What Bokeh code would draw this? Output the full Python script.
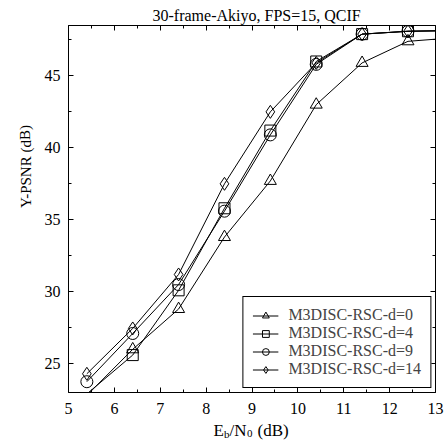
import numpy as np
from bokeh.plotting import figure
from bokeh.models import Range1d, SingleIntervalTicker, LinearAxis
from bokeh.layouts import column, row
from bokeh.core.properties import value
from bokeh.embed import file_html
from bokeh.resources import INLINE

# ---- data ----
ebn0 = [5.4, 6.4, 7.4, 8.4, 9.4, 10.4, 11.4, 12.4, 13.4]
d0 = [22.8, 26.0, 28.8, 33.8, 37.7, 43.0, 45.9, 47.4, 47.65]
d4 = [22.9, 25.6, 30.1, 35.8, 41.2, 46.0, 47.9, 48.1, 48.15]
d9 = [23.75, 27.1, 30.5, 35.6, 40.9, 45.8, 47.9, 48.1, 48.15]
d14 = [24.3, 27.45, 31.2, 37.5, 42.5, 45.9, 47.9, 48.1, 48.15]
labels = ["M3DISC-RSC-d=0", "M3DISC-RSC-d=4", "M3DISC-RSC-d=9", "M3DISC-RSC-d=14"]
title_text = "30-frame-Akiyo, FPS=15, QCIF"
ylabel_text = "Y-PSNR (dB)"
xlabel_parts = ["E", "b", "/N", "0", "(dB)"]
x_min, x_max = 5, 13
y_min, y_max = 23, 48.5

FONT = "'Liberation Serif', 'Times New Roman', serif"
W, H = 448, 444
TITLE_H = 25
MAIN_H = 393
XLAB_H = H - TITLE_H - MAIN_H
YLAB_W = 38
FR_L, FR_R = 68, 435

xr = Range1d(x_min, x_max)


def bare(width, height, x_range, y_range, **kw):
    f = figure(width=width, height=height, x_range=x_range, y_range=y_range,
               output_backend="svg", toolbar_location=None,
               x_axis_type=None, y_axis_type=None, **kw)
    f.xgrid.visible = False
    f.ygrid.visible = False
    f.outline_line_color = None
    f.background_fill_color = "white"
    f.border_fill_color = "white"
    return f


# ---- title strip ----
tf = bare(W, TITLE_H, xr, Range1d(0, TITLE_H), min_border_left=FR_L, min_border_right=W - FR_R,
          min_border_top=0, min_border_bottom=0)
tf.text(x=[9.1], y=[TITLE_H - 15], text=[title_text], text_font=value(FONT),
        text_font_size="16px", text_align="center", text_baseline="alphabetic", text_color="black")

# ---- y label strip ----
yf = bare(YLAB_W, MAIN_H, Range1d(0, YLAB_W), Range1d(0, MAIN_H), min_border_left=0,
          min_border_right=0, min_border_top=0, min_border_bottom=0)
yf.text(x=[25], y=[MAIN_H - (176 - TITLE_H)], text=[ylabel_text], angle=[np.pi / 2],
        text_font=value(FONT), text_font_size="15px", text_align="center",
        text_baseline="middle", text_color="black")

# ---- main plot ----
p = figure(width=W - YLAB_W, height=MAIN_H, x_range=xr, y_range=Range1d(y_min, y_max),
           output_backend="svg", toolbar_location=None,
           min_border_left=FR_L - YLAB_W, min_border_right=W - FR_R, min_border_top=0,
           min_border_bottom=26)
p.xgrid.visible = False
p.ygrid.visible = False
p.outline_line_color = "black"
p.outline_line_width = 1
p.outline_line_alpha = 1
p.background_fill_color = "white"
p.border_fill_color = "white"

bottom = p.xaxis[0]
left = p.yaxis[0]
bottom.ticker = SingleIntervalTicker(interval=1, num_minor_ticks=2)
left.ticker = SingleIntervalTicker(interval=5, num_minor_ticks=2)
top = LinearAxis(ticker=SingleIntervalTicker(interval=1, num_minor_ticks=2))
right = LinearAxis(ticker=SingleIntervalTicker(interval=5, num_minor_ticks=2))
p.add_layout(top, "above")
p.add_layout(right, "right")

for ax in [bottom, left, top, right]:
    ax.axis_line_color = None
    ax.major_tick_in = 5
    ax.major_tick_out = 0
    ax.minor_tick_in = 3
    ax.minor_tick_out = 0
    ax.major_tick_line_color = "black"
    ax.minor_tick_line_color = "black"
    ax.major_label_text_font = FONT
    ax.major_label_text_font_size = "16px"
    ax.major_label_text_color = "black"
for ax in [top, right]:
    ax.major_label_text_font_size = "1px"
    ax.major_label_text_color = None
    ax.major_label_standoff = 0
bottom.major_label_standoff = 10
left.major_label_standoff = 8

styles = [("triangle", 12), ("square", 11), ("circle", 12), ("diamond", 13)]
for ys, lab, (mk, sz) in zip([d0, d4, d9, d14], labels, styles):
    p.line(ebn0, ys, line_color="black", line_width=1, legend_label=lab)
    keep = [(xv, yv) for xv, yv in zip(ebn0, ys) if x_min <= xv <= x_max and y_min <= yv <= y_max]
    p.scatter([k[0] for k in keep], [k[1] for k in keep], marker=mk, size=sz,
              line_color="black", line_width=1, fill_color=None, legend_label=lab)

lg = p.legend[0]
lg.location = "bottom_right"
lg.margin = 4
lg.label_text_font = FONT
lg.label_text_font_size = "16px"
lg.glyph_width = 26
lg.glyph_height = 17
lg.label_height = 17
lg.label_standoff = 10
lg.padding = 9
lg.spacing = 0
lg.border_line_color = "black"
lg.border_line_width = 1
lg.border_line_alpha = 1
lg.background_fill_alpha = 1

# ---- x label strip: E_b/N_0 (dB) ----
xf = bare(W, XLAB_H, xr, Range1d(0, XLAB_H), min_border_left=FR_L, min_border_right=W - FR_R,
          min_border_top=0, min_border_bottom=0)
base = XLAB_H - 12
sub = XLAB_H - 15
offs = [-38.5, -28.0, -22.5, -5.0, 5.5]
ys_lab = [base, sub, base, sub, base]
sizes = ["17px", "11px", "17px", "11px", "17px"]
for t, dx, yy, fs in zip(xlabel_parts, offs, ys_lab, sizes):
    xf.text(x=[9.0], y=[yy], text=[t], x_offset=dx, text_font=value(FONT), text_font_size=fs,
            text_align="left", text_baseline="alphabetic", text_color="black")

layout = column(tf, row(yf, p), xf)
open("out.html", "w").write(file_html(layout, INLINE))
